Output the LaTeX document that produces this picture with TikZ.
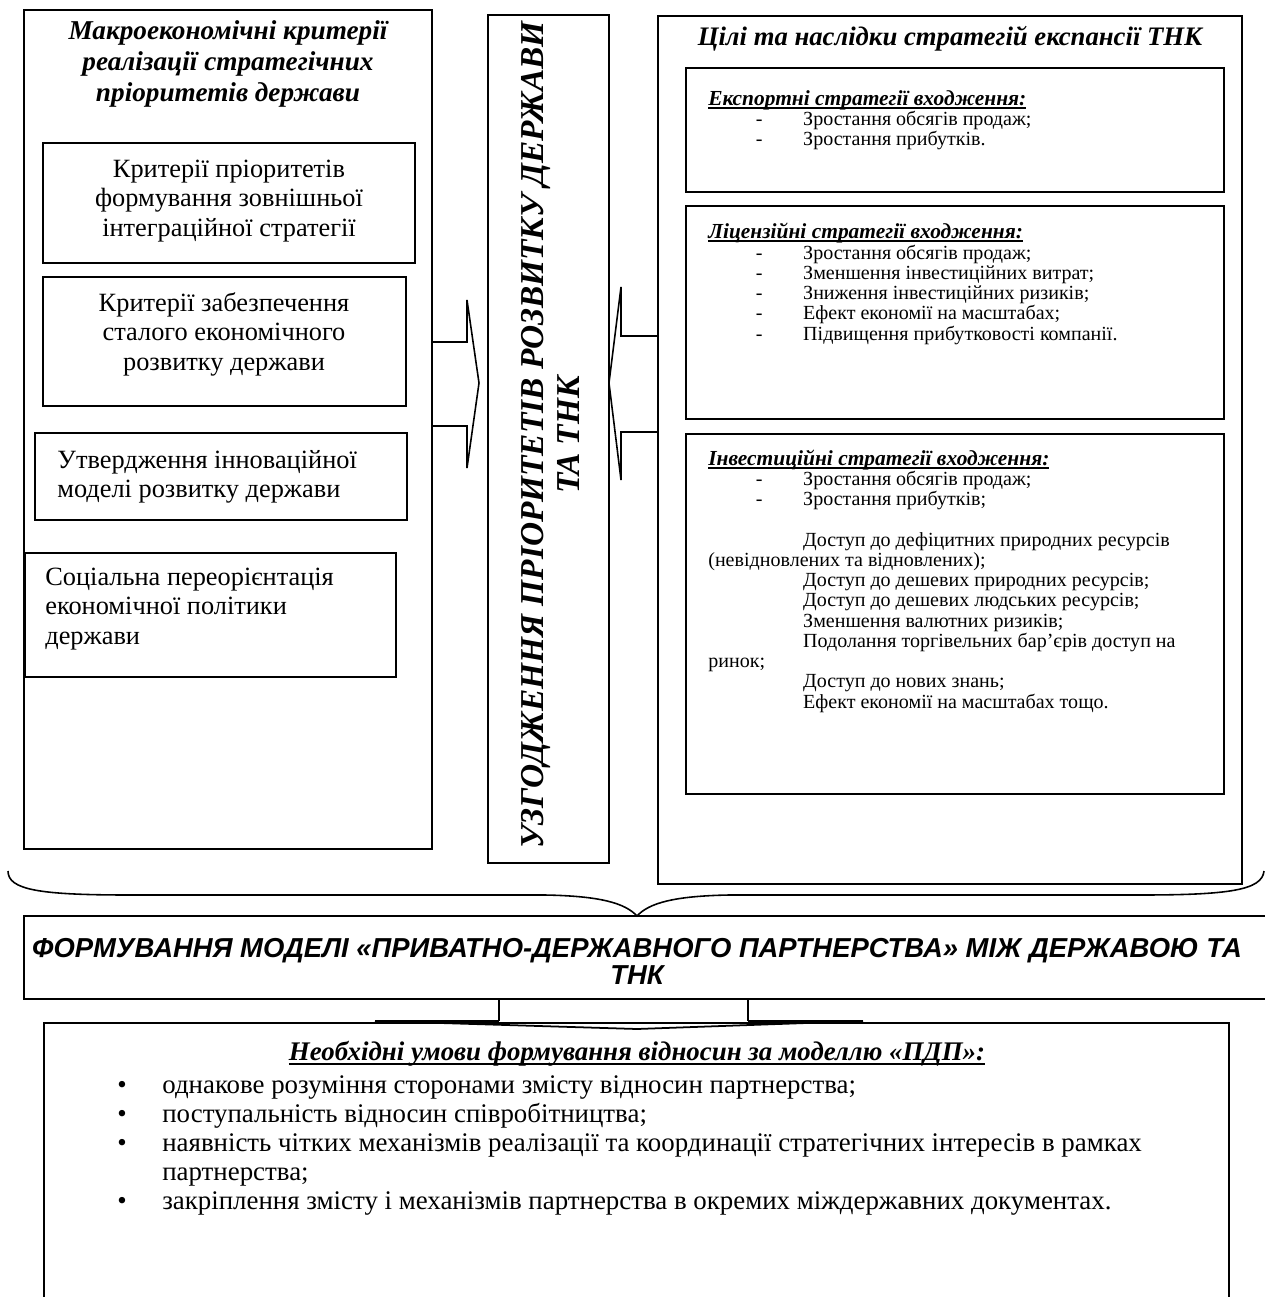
\documentclass[tikz,border=0pt]{standalone}
\usepackage{fontspec}
\setmainfont{Liberation Serif}
\newfontfamily\arialfont{Liberation Sans}
\usetikzlibrary{calc}
\usetikzlibrary{positioning}

\setlength{\lineskiplimit}{-5pt}

\newcommand{\dashitem}{\makebox[54pt][l]{\hspace*{27pt}-}}
\newcommand{\skipitem}{\hspace*{54pt}}
\newcommand{\bulitem}{\makebox[25.6pt][l]{\textbullet}}
\newcommand{\bulskip}{\hspace*{25.6pt}}
\newcommand{\ulinebox}[2]{\setbox0\hbox{#2}\rlap{\rule[-#1]{\wd0}{1.1pt}}\box0}
\newcommand{\headline}[2][2pt]{\textbf{\textit{\ulinebox{#1}{#2}}}}
\newcommand{\listhead}[1]{{\fontsize{12.2}{11.5}\selectfont\headline[1.9pt]{#1}}}

\tikzset{
  frame/.style={draw, line width=0.9pt},
  subframe/.style={draw, line width=1.2pt},
  lefttitle/.style={font=\fontsize{15.5}{17.6}\selectfont\bfseries\itshape, align=center, inner sep=0pt},
  bigtext/.style={font=\fontsize{15}{16.8}\selectfont, inner sep=0pt},
  righttitle/.style={font=\fontsize{15.2}{18}\selectfont\bfseries\itshape, inner sep=0pt},
  % anchor base = baseline of the last line
  listtext/.style={font=\fontsize{11.4}{11.5}\selectfont, align=left, anchor=base west, inner sep=0pt},
  centertext/.style={font=\fontsize{19}{20.5}\selectfont\bfseries\itshape, align=center, rotate=90, inner sep=0pt},
  ppptext/.style={font=\fontsize{15.6}{15.4}\selectfont\arialfont\bfseries\itshape, align=center, inner sep=0pt},
  condtext/.style={font=\fontsize{15.3}{16.5}\selectfont, inner sep=0pt}
}

\begin{document}
\begin{tikzpicture}[x=0.02cm,y=-0.02cm]
  \useasboundingbox (0,0) rectangle (1264,1297);

  % left block
  \draw[frame] (24,10) rectangle (432,849);
  \node[lefttitle] (macro) at (228,64) {Макроекономічні критерії\\реалізації стратегічних\\пріоритетів держави};

  \draw[frame] (43,143) rectangle (415,263);
  \node[bigtext, align=center] (crit1) at (229,201) {Критерії пріоритетів\\формування зовнішньої\\інтеграційної стратегії};

  \draw[frame] (43,277) rectangle (406,406);
  \node[bigtext, align=center] (crit2) at (224,334) {Критерії забезпечення\\сталого економічного\\розвитку держави};

  \draw[frame] (35,433) rectangle (407,520);
  \node[bigtext, align=left, anchor=west] (innov) at (57,477) {Утвердження інноваційної\\моделі розвитку держави};

  \draw[frame] (25,553) rectangle (396,677);
  \node[bigtext, align=left, anchor=west] (social) at (45,609) {Соціальна переорієнтація\\економічної політики\\держави};

  % middle block
  \draw[frame] (488,15) rectangle (609,863);
  \node[centertext] (agree) at (550,435) {УЗГОДЖЕННЯ ПРІОРИТЕТІВ РОЗВИТКУ ДЕРЖАВИ\\ТА ТНК};

  \draw[frame] (431,342) -- (467,342) -- (467,300) -- (479,383) -- (467,468) -- (467,426) -- (431,426);
  \draw[frame] (658,336) -- (621,336) -- (621,287) -- (609,383) -- (621,480) -- (621,432) -- (658,432);

  % right block
  \draw[frame] (658,16) rectangle (1242,884);
  \node[righttitle] (goals) at (950,39) {Цілі та наслідки стратегій експансії ТНК};

  \draw[subframe] (686,68) rectangle (1224,192);
  \node[listtext] (export) at (708,146) {\listhead{Експортні стратегії входження:}\\
    \dashitem Зростання обсягів продаж;\\
    \dashitem Зростання прибутків.};

  \draw[subframe] (686,206) rectangle (1224,419);
  \node[listtext] (licence) at (708,340) {\listhead{Ліцензійні стратегії входження:}\\
    \dashitem Зростання обсягів продаж;\\
    \dashitem Зменшення інвестиційних витрат;\\
    \dashitem Зниження інвестиційних ризиків;\\
    \dashitem Ефект економії на масштабах;\\
    \dashitem Підвищення прибутковості компанії.};

  \draw[subframe] (686,434) rectangle (1224,794);
  \node[listtext] (invest) at (708,708) {\listhead{Інвестиційні стратегії входження:}\\
    \dashitem Зростання обсягів продаж;\\
    \dashitem Зростання прибутків;\\
    \mbox{}\\
    \skipitem Доступ до дефіцитних природних ресурсів\\
    (невідновлених та відновлених);\\
    \skipitem Доступ до дешевих природних ресурсів;\\
    \skipitem Доступ до дешевих людських ресурсів;\\
    \skipitem Зменшення валютних ризиків;\\
    \skipitem Подолання торгівельних бар’єрів доступ на\\
    ринок;\\
    \skipitem Доступ до нових знань;\\
    \skipitem Ефект економії на масштабах тощо.};

  % brace and partnership
  \draw[frame] (8,871) .. controls (8,890) and (40,895) .. (130,895) -- (545,895)
    .. controls (600,896) and (625,903) .. (637,916)
    .. controls (649,903) and (674,896) .. (729,895) -- (1140,895)
    .. controls (1230,895) and (1262,890) .. (1264,871);

  \draw[frame] (24,916) rectangle (1290,999);
  \node[ppptext] (ppp) at (637,961) {ФОРМУВАННЯ МОДЕЛІ «ПРИВАТНО-ДЕРЖАВНОГО ПАРТНЕРСТВА» МІЖ ДЕРЖАВОЮ ТА\\ТНК};

  \draw[frame] (499,999) -- (499,1021);
  \draw[frame] (748,999) -- (748,1021);
  \draw[line width=1.7pt] (499,1021) -- (375,1021);
  \draw[line width=1.7pt] (748,1021) -- (863,1021);
  \draw[line width=1pt] (375,1021) -- (637,1029) -- (863,1021);

  \draw[frame] (44,1320) -- (44,1023) -- (1229,1023) -- (1229,1320);
  \node[condtext, anchor=base] (condhead) at (637,1060) {\headline[3pt]{Необхідні умови формування відносин за моделлю «ПДП»:}};
  \node[condtext, align=left, anchor=base west] (cond) at (117,1209) {\bulitem однакове розуміння сторонами змісту відносин партнерства;\\
    \bulitem поступальність відносин співробітництва;\\
    \bulitem наявність чітких механізмів реалізації та координації стратегічних інтересів в рамках\\
    \bulskip партнерства;\\
    \bulitem закріплення змісту і механізмів партнерства в окремих міждержавних документах.};
\end{tikzpicture}
\end{document}
